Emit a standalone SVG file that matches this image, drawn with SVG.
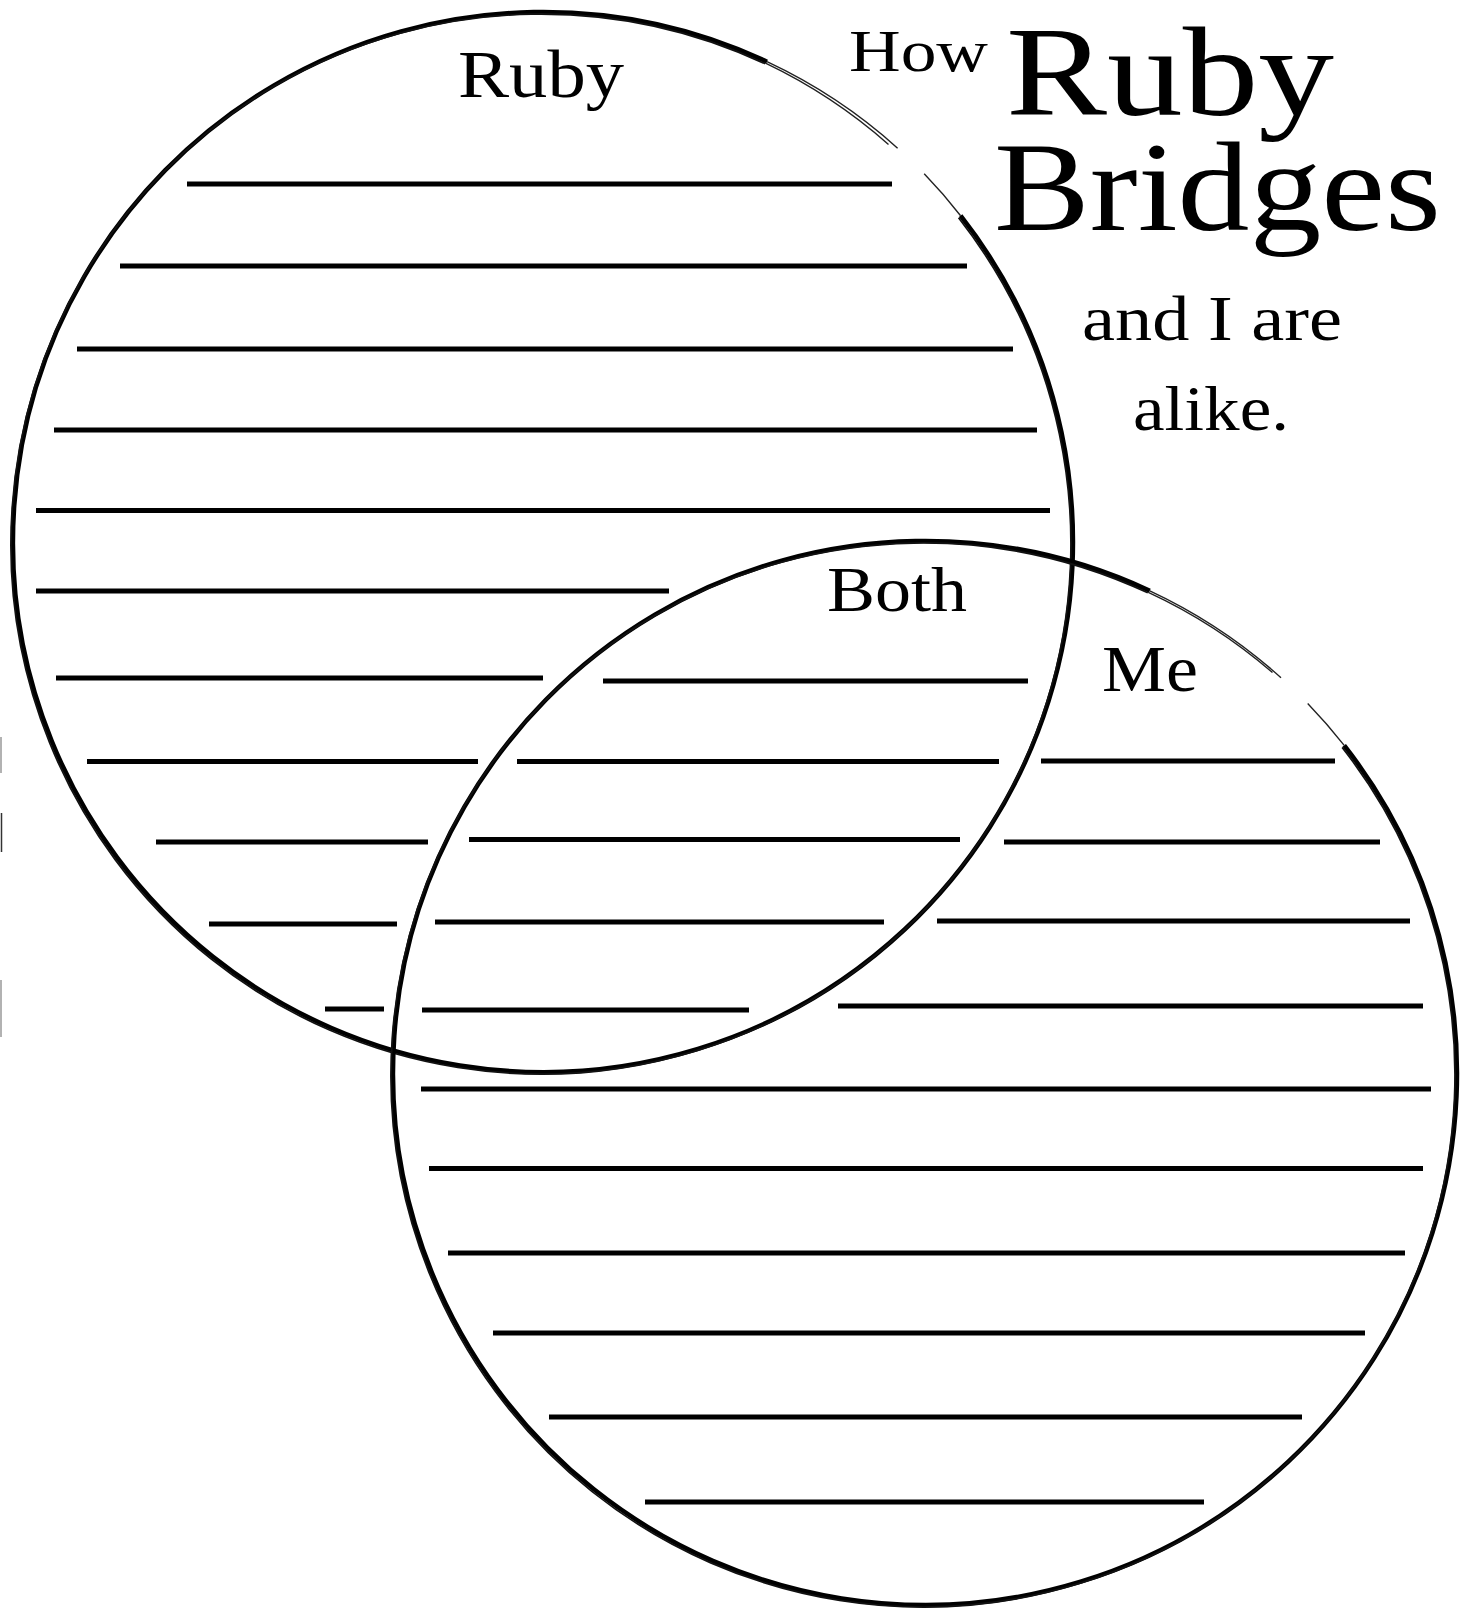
<svg xmlns="http://www.w3.org/2000/svg" width="1461" height="1616" viewBox="0 0 1461 1616">
<style>
.ln{stroke:#000;stroke-width:5;fill:none}
.thick{stroke:#000;stroke-width:4.5;fill:none}
.sk{stroke:#111;stroke-width:1.8;fill:none}
.thin{stroke:#222;stroke-width:1.4;fill:none}
.t{font-family:"Liberation Serif",serif;fill:#000}
</style>
<rect width="1461" height="1616" fill="#fff"/>
<g id="circle-ruby">
<path class="thick" d="M 960.6 215.7 A 530 530 0 1 1 767 61.7"/>
<path class="sk" d="M 960.6 215.7 A 530 530 0 1 1 767 61.7" transform="translate(-2,2)"/>
<path class="thin" d="M 767 61.7 A 530 530 0 0 1 897.6 148.2"/>
<path class="thin" d="M 767 61.7 A 530 530 0 0 1 890 143" transform="translate(-1.5,1.5)"/>
<path class="thin" d="M 924.2 173.8 A 530 530 0 0 1 960.6 215.7"/>
</g>
<g id="circle-me">
<path class="thick" d="M 1344.2 745.4 A 532 532 0 1 1 1149.8 590.8"/>
<path class="sk" d="M 1344.2 745.4 A 532 532 0 1 1 1149.8 590.8" transform="translate(-2,2)"/>
<path class="thin" d="M 1149.8 590.8 A 532 532 0 0 1 1281 677.7"/>
<path class="thin" d="M 1149.8 590.8 A 532 532 0 0 1 1274 671" transform="translate(-1.5,1.5)"/>
<path class="thin" d="M 1307.7 703.4 A 532 532 0 0 1 1344.2 745.4"/>
</g>
<g id="edge-marks" stroke="#999" stroke-width="1.5">
<line x1="1" y1="737" x2="1" y2="773"/>
<line x1="1.5" y1="813" x2="1.5" y2="852" stroke="#333"/>
<line x1="1" y1="980" x2="1" y2="1037"/>
</g>
<g id="title">
<text class="t" x="849" y="71" font-size="59" textLength="139" lengthAdjust="spacingAndGlyphs">How</text>
<text class="t" x="1006" y="115" font-size="126" textLength="328" lengthAdjust="spacingAndGlyphs">Ruby</text>
<text class="t" x="994" y="230" font-size="126" textLength="447" lengthAdjust="spacingAndGlyphs">Bridges</text>
<text class="t" x="1082" y="340" font-size="64" textLength="260" lengthAdjust="spacingAndGlyphs">and I are</text>
<text class="t" x="1133" y="430" font-size="64" textLength="156" lengthAdjust="spacingAndGlyphs">alike.</text>
</g>
<g id="labels">
<text class="t" x="458" y="97" font-size="67" textLength="166" lengthAdjust="spacingAndGlyphs">Ruby</text>
<text class="t" x="827" y="611" font-size="63" textLength="140" lengthAdjust="spacingAndGlyphs">Both</text>
<text class="t" x="1102" y="691" font-size="65" textLength="96" lengthAdjust="spacingAndGlyphs">Me</text>
</g>
<g id="writing-lines">
<line class="ln" x1="187" y1="184" x2="892" y2="184"/>
<line class="ln" x1="120" y1="266" x2="967" y2="266"/>
<line class="ln" x1="77" y1="349" x2="1013" y2="349"/>
<line class="ln" x1="54" y1="430" x2="1037" y2="430"/>
<line class="ln" x1="36" y1="510.5" x2="1050" y2="510.5"/>
<line class="ln" x1="36" y1="591" x2="669" y2="591"/>
<line class="ln" x1="56" y1="678" x2="543" y2="678"/>
<line class="ln" x1="603" y1="681" x2="1028" y2="681"/>
<line class="ln" x1="87" y1="761.5" x2="478" y2="761.5"/>
<line class="ln" x1="517" y1="761.5" x2="999" y2="761.5"/>
<line class="ln" x1="1041" y1="761" x2="1335" y2="761"/>
<line class="ln" x1="156" y1="842" x2="428" y2="842"/>
<line class="ln" x1="469" y1="839.5" x2="960" y2="839.5"/>
<line class="ln" x1="1004" y1="842" x2="1380" y2="842"/>
<line class="ln" x1="209" y1="924" x2="397" y2="924"/>
<line class="ln" x1="435" y1="922" x2="884" y2="922"/>
<line class="ln" x1="937" y1="921" x2="1410" y2="921"/>
<line class="ln" x1="325" y1="1009" x2="384" y2="1009"/>
<line class="ln" x1="422" y1="1010" x2="749" y2="1010"/>
<line class="ln" x1="838" y1="1006" x2="1423" y2="1006"/>
<line class="ln" x1="421" y1="1089" x2="1431" y2="1089"/>
<line class="ln" x1="429" y1="1168.5" x2="1423" y2="1168.5"/>
<line class="ln" x1="448" y1="1253" x2="1405" y2="1253"/>
<line class="ln" x1="493" y1="1333" x2="1365" y2="1333"/>
<line class="ln" x1="549" y1="1417" x2="1302" y2="1417"/>
<line class="ln" x1="645" y1="1502" x2="1204" y2="1502"/>
</g>
</svg>
